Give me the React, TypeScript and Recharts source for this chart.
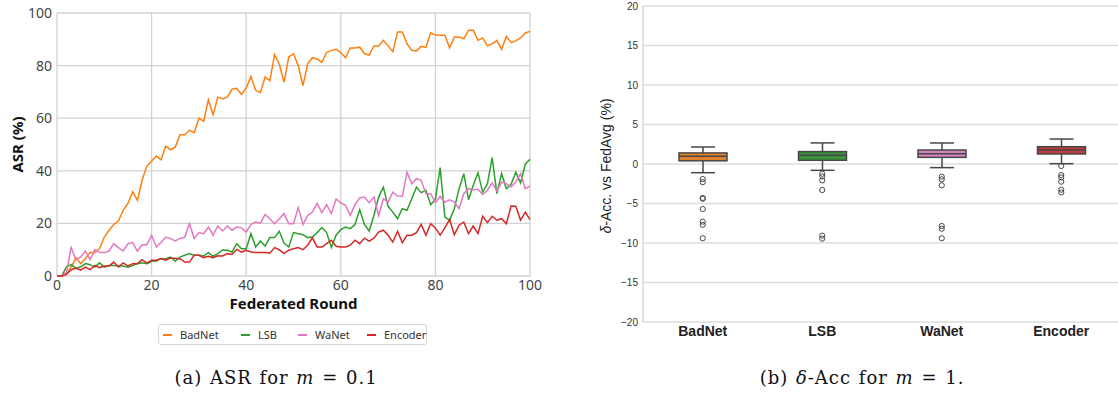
import React from 'react'
import {
  LineChart, Line, ComposedChart, Bar, Scatter, XAxis, YAxis, CartesianGrid,
} from 'recharts'

// federated rounds 0..100
const rounds = Array.from({ length: 101 }, (_, i) => i)

const badnet = [
  0, 0, 1, 3.4, 7, 4.7, 6.6, 8.9, 8.9, 10.4,
  14.8, 17.4, 19.6, 21, 25, 27.6, 32, 28.8, 36.5, 41.8,
  43.6, 45.6, 44.2, 49.4, 48, 49, 53.7, 53.7, 55.4, 54.5,
  60, 58.8, 67, 61.3, 68, 67.4, 68, 71, 71.4, 69,
  71.5, 75.8, 70.6, 69.8, 75.7, 74.3, 84.2, 80.5, 73.6, 83.3,
  84.5, 80, 72.4, 80.7, 83, 82.5, 81.2, 85, 85.8, 86.2,
  85, 83, 86.7, 86.7, 87, 84.5, 84, 87.5, 87.5, 89.6,
  87.5, 85.3, 92.8, 92.8, 88.3, 85.8, 85.6, 87.3, 87, 92.5,
  91.6, 91.5, 91.5, 86.8, 90.9, 90.9, 90.2, 93.4, 93.4, 89.6,
  90.5, 87.5, 88.3, 89.6, 86.2, 91.1, 88.7, 89.4, 90.5, 92.4,
  93,
]

const lsb = [
  0, 0, 3.5, 4.3, 3, 3.4, 4.7, 4.3, 3.4, 5,
  3.4, 4, 4, 3.8, 3.8, 3.3, 4, 4.7, 5, 4.7,
  5.6, 5.7, 6.6, 6.6, 7.2, 5.6, 7.2, 7.9, 8.5, 7.9,
  7.9, 7.6, 8.9, 7.5, 8.5, 9.9, 9.8, 9.1, 12.3, 10.4,
  10.4, 16.1, 11, 13.3, 11.4, 14.6, 14.6, 17, 12.5, 11,
  16.5, 16.1, 15.7, 14.6, 14.8, 16.5, 18.4, 16.5, 10.8, 15.5,
  17.6, 18.6, 18, 19.6, 25.2, 19.6, 17.1, 23, 30, 33.8,
  26.5, 24.3, 21.8, 25.6, 25, 29.4, 33.8, 31.7, 32.6, 27.1,
  29.2, 41.2, 22.4, 21.2, 25.6, 33.2, 38.9, 29, 34.5, 39.2,
  31.9, 35.1, 45, 31.3, 38.9, 33.2, 34.9, 39.5, 35.4, 42.5,
  44.4,
]

const wanet = [
  0, 0, 1.5, 10.8, 6.2, 7.2, 9.5, 6.2, 10, 8.9,
  8.9, 9.5, 12.3, 10.8, 9.5, 12.3, 12.7, 9.5, 11.9, 11.9,
  15.5, 11, 12.7, 14.8, 14.2, 13.3, 14.3, 14.7, 19.9, 14.3,
  16.5, 16.1, 18.6, 15.5, 19, 17.1, 19, 17.4, 18.6, 18.3,
  16.7, 19.6, 20.5, 20.1, 23.4, 21.8, 19.9, 21.8, 23.7, 19.9,
  19.9, 26, 19.6, 23, 24.3, 27.6, 24.1, 27.1, 23.7, 29.3,
  27.8, 26.9, 23, 27.2, 29.7, 30, 27.9, 30, 23, 29.4,
  28.1, 31.9, 30.4, 30.3, 39.5, 35.1, 37, 36.4, 31.3, 31.3,
  27.9, 30.3, 28.1, 29, 28.1, 25.6, 31.3, 33.2, 32.8, 33,
  31, 32.6, 35.4, 32.3, 35.7, 35.1, 33.8, 35.7, 38.9, 33.2,
  34.2,
]

const encoder = [
  0, 0, 0.6, 2.4, 3, 2.2, 3.4, 2.4, 4, 3.2,
  3.8, 3.8, 5.3, 3.4, 5, 3.8, 4.7, 4.7, 6.2, 4.9,
  6, 6, 6.6, 6, 6.8, 6.7, 6.6, 5.3, 5.3, 7.9,
  7.9, 7, 7.5, 7, 7.7, 7.6, 8.5, 8.2, 10.1, 9.1,
  9.8, 9.1, 8.9, 8.9, 8.9, 8.7, 10.8, 10, 8.5, 9.8,
  10.4, 10.8, 10, 11.7, 14.5, 11, 11, 12.3, 13.6, 11.3,
  11, 11, 11.7, 13.6, 12.3, 14.4, 13.3, 14.4, 16.7, 17.4,
  15.5, 12.9, 17, 12.7, 15.5, 15.5, 16.5, 19.6, 15.5, 19.9,
  18.3, 15.5, 18.3, 21.5, 15.7, 19.3, 20.5, 16.1, 19, 16.1,
  22.7, 20.3, 22.7, 21.2, 21.8, 19.9, 26.6, 26.5, 21.2, 24.3,
  21.4,
]

const asrTicks = [0, 20, 40, 60, 80, 100]

const seriesNames = ['BadNet', 'LSB', 'WaNet', 'Encoder']
const lineColors = ['#ff7f0e', '#2ca02c', '#e377c2', '#d62728']
const boxColors = ['#e1812c', '#3a923a', '#d684bd', '#c03d3e']

// box plot stats: [whisker low, q1, median, q3, whisker high]
const boxStats = [
  [-1.1, 0.4, 0.97, 1.4, 2.15],
  [-0.8, 0.47, 1.1, 1.57, 2.67],
  [-0.46, 0.84, 1.3, 1.77, 2.66],
  [0.04, 1.27, 1.77, 2.19, 3.16],
]

const outlierValues = [
  [-1.9, -2.3, -4.3, -4.4, -5.7, -7.3, -7.7, -9.4],
  [-1.23, -1.57, -2.08, -3.3, -9.07, -9.45],
  [-1.6, -1.94, -2.7, -7.85, -8.2, -9.4],
  [-0.25, -1.4, -1.7, -2.24, -3.25, -3.6],
]

const deltaTicks = [-20, -15, -10, -5, 0, 5, 10, 15, 20]

const lineData = rounds.map((r, i) => ({
  round: r, BadNet: badnet[i], LSB: lsb[i], WaNet: wanet[i], Encoder: encoder[i],
}))

const boxData = seriesNames.map((name, i) => ({
  name,
  range: [boxStats[i][0], boxStats[i][4]],
  stats: boxStats[i],
  color: boxColors[i],
}))

const outlierData = seriesNames.flatMap((name, i) => outlierValues[i].map(v => ({ name, v })))

const sans = '"Noto Sans", "Open Sans", sans-serif'
const helv = '"Liberation Sans", Arial, sans-serif'
const serif = '"DejaVu Serif", serif'
const edge = '#474747'

const BoxShape = (props: any) => {
  const { x, y, width, height, payload } = props
  const [lo, q1, med, q3, hi] = payload.stats
  const top = Math.min(y, y + height)
  const bottom = Math.max(y, y + height)
  const k = (bottom - top) / (hi - lo)
  const py = (v: number) => top + (hi - v) * k
  const cx = x + width / 2
  const cap = width / 4
  return (
    <g>
      <line x1={cx} x2={cx} y1={py(hi)} y2={py(q3)} stroke={edge} strokeWidth={1.5} />
      <line x1={cx} x2={cx} y1={py(q1)} y2={py(lo)} stroke={edge} strokeWidth={1.5} />
      <line x1={cx - cap} x2={cx + cap} y1={py(hi)} y2={py(hi)} stroke={edge} strokeWidth={1.5} />
      <line x1={cx - cap} x2={cx + cap} y1={py(lo)} y2={py(lo)} stroke={edge} strokeWidth={1.5} />
      <rect x={x} y={py(q3)} width={width} height={py(q1) - py(q3)} fill={payload.color} stroke={edge} strokeWidth={1.5} />
      <line x1={x} x2={x + width} y1={py(med)} y2={py(med)} stroke={edge} strokeWidth={1.5} />
    </g>
  )
}

const Ring = (props: any) => (
  <circle cx={props.cx} cy={props.cy} r={2.6} fill="none" stroke={edge} strokeWidth={1} />
)

const AsrYLabel = (props: any) => {
  const vb = props.viewBox
  const cx = vb.x + 19
  const cy = vb.y + vb.height / 2
  return (
    <text x={cx} y={cy} transform={`rotate(-90 ${cx} ${cy})`} textAnchor="middle" dominantBaseline="middle"
      fontSize={15} fontWeight={700} fontFamily={sans} fill="#111">ASR (%)</text>
  )
}

const AsrXLabel = (props: any) => {
  const vb = props.viewBox
  return (
    <text x={vb.x + vb.width / 2} y={vb.y + 29} textAnchor="middle" dominantBaseline="middle"
      fontSize={15} fontWeight={700} fontFamily={sans} fill="#111">Federated Round</text>
  )
}

const AsrChart = () => (
  <LineChart width={545} height={320} data={lineData} margin={{ top: 13, right: 15, bottom: 0, left: 0 }}>
    <CartesianGrid stroke="#d2d2d2" strokeWidth={1.3} />
    <XAxis
      dataKey="round" type="number" domain={[0, 100]} ticks={asrTicks}
      axisLine={false} tickLine={false} tickSize={3} tickMargin={1} height={44}
      tick={{ fill: '#444', fontSize: 14, fontFamily: sans }}
      label={<AsrXLabel />}
    />
    <YAxis
      type="number" domain={[0, 100]} ticks={asrTicks} width={57}
      axisLine={false} tickLine={false} tickSize={3} tickMargin={2}
      tick={{ fill: '#444', fontSize: 14, fontFamily: sans }}
      label={<AsrYLabel />}
    />
    {seriesNames.map((n, i) => (
      <Line key={n} dataKey={n} type="linear" stroke={lineColors[i]} strokeWidth={1.5} dot={false} isAnimationActive={false} />
    ))}
  </LineChart>
)

const DeltaLabel = (props: any) => {
  const vb = props.viewBox
  const cx = vb.x + 27
  const cy = vb.y + vb.height / 2 + 2
  return (
    <text x={cx} y={cy} transform={`rotate(-90 ${cx} ${cy})`} textAnchor="middle" dominantBaseline="middle"
      fontSize={14} fontFamily={helv} fill="#222">
      <tspan fontStyle="italic">δ</tspan>-Acc. vs FedAvg (%)
    </text>
  )
}

const DeltaChart = () => (
  <ComposedChart width={541} height={345} data={boxData} margin={{ top: 6, right: 0, bottom: 0, left: 0 }}>
    <CartesianGrid vertical={false} stroke="#dcdcdc" strokeWidth={1.3} />
    <XAxis
      dataKey="name" type="category" allowDuplicatedCategory={false}
      axisLine={false} tickLine={false} tickSize={2} tickMargin={2} height={23}
      tick={{ fill: '#222', fontSize: 14, fontWeight: 700, fontFamily: helv }}
    />
    <YAxis
      type="number" domain={[-20, 20]} ticks={deltaTicks} width={63}
      axisLine={{ stroke: '#cfcfcf', strokeWidth: 1.2 }} tickLine={false} tickSize={3} tickMargin={2}
      tickFormatter={(v: number) => (v < 0 ? `\u2212${-v}` : `${v}`)}
      tick={{ fill: '#333', fontSize: 10, fontFamily: helv }}
      label={<DeltaLabel />}
    />
    <Bar dataKey="range" barSize={48} shape={BoxShape} isAnimationActive={false} />
    <Scatter data={outlierData} dataKey="v" shape={Ring} isAnimationActive={false} />
  </ComposedChart>
)

const Legend = () => (
  <div style={{
    position: 'absolute', left: 158, top: 324, width: 267, height: 19,
    border: '1px solid #d6d6d6', borderRadius: 3, fontFamily: sans, fontSize: 11, color: '#333',
  }}>
    {seriesNames.map((n, i) => (
      <div key={n} style={{ position: 'absolute', left: [4, 82, 139, 208][i], top: 2, display: 'flex', alignItems: 'center' }}>
        <span style={{ display: 'inline-block', width: 9, height: 2, background: lineColors[i], marginRight: 8 }} />
        <span>{n}</span>
      </div>
    ))}
  </div>
)

const caption: React.CSSProperties = {
  position: 'absolute', top: 367, transform: 'translateX(-50%)', whiteSpace: 'nowrap',
  fontFamily: serif, fontSize: 18, letterSpacing: 1, wordSpacing: 1, color: '#111',
}

export default function App() {
  return (
    <div style={{ position: 'absolute', left: 0, top: 0, width: 1118, height: 394, overflow: 'hidden', background: '#fff' }}>
      <div style={{ position: 'absolute', left: 0, top: 0 }}>
        <AsrChart />
      </div>
      <Legend />
      <div style={{ ...caption, left: 276 }}>
        (a) ASR for <i>m</i> = 0.1
      </div>
      <div style={{ position: 'absolute', left: 580, top: 0 }}>
        <DeltaChart />
      </div>
      <div style={{ ...caption, left: 862 }}>
        (b) <i>δ</i>-Acc for <i>m</i> = 1.
      </div>
    </div>
  )
}
